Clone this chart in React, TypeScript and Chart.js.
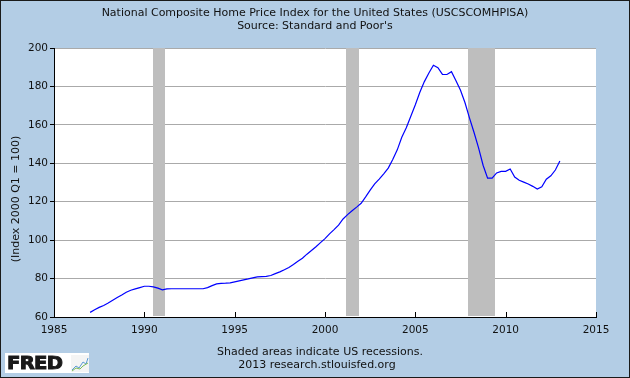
import React, { useEffect, useRef } from "react";
import { Chart, registerables } from "chart.js";

Chart.register(...registerables);

// Quarterly index values (2000 Q1 = 100), first quarter is 1987 Q1
const firstYear = 1987;
const values1987to1994 = [
  62.4, 63.8, 65.0, 66.0,
  67.3, 68.7, 70.1, 71.4,
  72.9, 73.9, 74.6, 75.3,
  76.0, 76.0, 75.7, 75.0,
  74.1, 74.6, 74.7, 74.7,
  74.7, 74.7, 74.7, 74.7,
  74.7, 74.7, 75.3, 76.3,
  77.2, 77.5, 77.6, 77.8,
];
const values1995to2004 = [
  78.3, 78.8, 79.3, 79.8,
  80.4, 80.9, 81.0, 81.1,
  81.6, 82.6, 83.5, 84.6,
  85.8, 87.3, 89.0, 90.6,
  92.7, 94.6, 96.6, 98.7,
  100.8, 103.3, 105.5, 107.8,
  111.0, 113.3, 115.3, 117.2,
  119.2, 122.5, 126.0, 129.3,
  131.8, 134.5, 137.5, 142.0,
  147.0, 153.5, 158.5, 164.5,
];
const values2005to2013 = [
  170.5, 177.0, 182.5, 187.0,
  191.0, 189.8, 186.3, 186.2,
  187.7, 183.0, 178.0, 171.5,
  163.5, 156.0, 148.0, 139.0,
  132.3, 132.3, 135.0, 135.8,
  135.8, 137.0, 132.8, 131.2,
  130.2, 129.2, 128.0, 126.6,
  127.8, 131.7, 133.5, 136.5,
  141.2,
];

// Recessions (decimal years)
const recessionStarts = [1990.5, 2001.17, 2007.92];
const recessionEnds = [1991.17, 2001.88, 2009.42];

// Axis ticks
const xMin = 1985;
const xMax = 2015;
const xStep = 5;
const yMin = 60;
const yMax = 200;
const yStep = 20;

const titleLine1 = "National Composite Home Price Index for the United States (USCSCOMHPISA)";
const titleLine2 = "Source: Standard and Poor's";
const yAxisTitle = "(Index 2000 Q1 = 100)";
const footLine1 = "Shaded areas indicate US recessions.";
const footLine2 = "2013 research.stlouisfed.org";

const BG = "#B3CDE5";
const FONT = "'DejaVu Sans', Verdana, sans-serif";

export default function App() {
  const canvasRef = useRef<HTMLCanvasElement | null>(null);

  useEffect(() => {
    document.body.style.margin = "0";
    const canvas = canvasRef.current;
    if (!canvas) return;

    const allValues = [...values1987to1994, ...values1995to2004, ...values2005to2013];
    const points = allValues.map((v, i) => ({ x: firstYear + i / 4, y: v }));

    const fredPlugin = {
      id: "fredPlugin",
      beforeDraw(chart: any) {
        const { ctx, chartArea } = chart;
        ctx.save();
        ctx.fillStyle = "#FFFFFF";
        ctx.fillRect(chartArea.left, chartArea.top, chartArea.right - chartArea.left, chartArea.bottom - chartArea.top);
        ctx.restore();
      },
      beforeDatasetsDraw(chart: any) {
        const { ctx, chartArea, scales } = chart;
        const xs = scales.x;
        ctx.save();
        ctx.fillStyle = "#BEBEBE";
        for (let i = 0; i < recessionStarts.length; i++) {
          const a = Math.round(xs.getPixelForValue(recessionStarts[i]));
          const b = Math.round(xs.getPixelForValue(recessionEnds[i]));
          ctx.fillRect(a, chartArea.top, b - a, chartArea.bottom - chartArea.top - 1);
        }
        ctx.restore();
      },
      afterDatasetsDraw(chart: any) {
        const { ctx, chartArea, scales } = chart;
        const xs = scales.x;
        ctx.save();
        ctx.strokeStyle = "#000000";
        ctx.lineWidth = 1;
        ctx.beginPath();
        for (const t of xs.ticks) {
          const px = Math.round(xs.getPixelForValue(t.value)) + 0.5;
          ctx.moveTo(px, chartArea.bottom);
          ctx.lineTo(px, chartArea.bottom - 5);
        }
        ctx.stroke();
        ctx.restore();
      },
    };

    const chart = new Chart(canvas, {
      type: "line",
      data: {
        datasets: [
          {
            data: points,
            borderColor: "#0000FF",
            borderWidth: 1.2,
            pointRadius: 0,
            tension: 0,
            fill: false,
          },
        ],
      },
      options: {
        animation: false,
        responsive: false,
        devicePixelRatio: 1,
        layout: { padding: { left: 0, right: 34, top: 48, bottom: 0 } },
        plugins: {
          legend: { display: false },
          tooltip: { enabled: false },
          title: { display: false },
        },
        scales: {
          x: {
            type: "linear",
            min: xMin,
            max: xMax,
            afterFit(scale: any) {
              scale.height = 61;
            },
            ticks: {
              stepSize: xStep,
              color: "#111111",
              padding: 7,
              maxRotation: 0,
              font: { family: FONT, size: 10.5 },
              callback: (v: any) => String(v),
            },
            grid: { display: true, drawOnChartArea: false, drawTicks: false },
            border: { display: true, color: "#000000", width: 1 },
          },
          y: {
            type: "linear",
            min: yMin,
            max: yMax,
            afterFit(scale: any) {
              scale.width = 54;
            },
            ticks: {
              stepSize: yStep,
              color: "#111111",
              padding: 2,
              font: { family: FONT, size: 10.5 },
              callback: (v: any) => String(v),
            },
            grid: {
              color: (c: any) => (c.tick && c.tick.value === yMin ? "rgba(0,0,0,0)" : "#AAAAAA"),
              tickColor: "#000000",
              tickLength: 4,
              lineWidth: 1,
            },
            border: { display: true, color: "#000000", width: 1 },
          },
        },
      },
      plugins: [fredPlugin],
    } as any);

    return () => chart.destroy();
  }, []);

  const textStyle: React.CSSProperties = {
    position: "absolute",
    left: 0,
    width: 630,
    textAlign: "center",
    fontFamily: FONT,
    fontSize: 11,
    color: "#111",
    whiteSpace: "nowrap",
    lineHeight: "13px",
  };

  return (
    <div style={{ position: "relative", width: 630, height: 378, background: BG, overflow: "hidden" }}>
      <canvas ref={canvasRef} width={630} height={378} style={{ position: "absolute", left: 0, top: 0 }} />
      <div style={{ ...textStyle, top: 6 }}>{titleLine1}</div>
      <div style={{ ...textStyle, top: 19 }}>{titleLine2}</div>
      <div style={{ ...textStyle, top: 345, left: 5 }}>{footLine1}</div>
      <div style={{ ...textStyle, top: 358, left: 2 }}>{footLine2}</div>
      <div
        style={{
          position: "absolute",
          left: 15,
          top: 199,
          transform: "translate(-50%, -50%) rotate(-90deg)",
          fontFamily: FONT,
          fontSize: 11,
          color: "#111",
          whiteSpace: "nowrap",
        }}
      >
        {yAxisTitle}
      </div>
      <div
        style={{
          position: "absolute",
          left: 5,
          top: 353,
          width: 84,
          height: 20,
          background: "#FFFFFF",
        }}
      >
        <div
          style={{
            position: "absolute",
            left: 2,
            top: 0,
            fontFamily: "'DejaVu Sans', sans-serif",
            fontWeight: 900,
            fontSize: 17,
            lineHeight: "20px",
            color: "#1a1a1a",
            transform: "scaleX(1.15)",
            transformOrigin: "left center",
            letterSpacing: "-0.6px",
            WebkitTextStroke: "0.9px #1a1a1a",
          }}
        >
          FRED
        </div>
        <svg width="18" height="17" style={{ position: "absolute", left: 66, top: 2 }}>
          <rect x="0" y="0" width="18" height="17" fill="#F4F4F4" />
          <polyline points="1,15 5,11 8,13 12,7 15,9 17,3" fill="none" stroke="#5A9BD5" strokeWidth="1" />
          <polyline points="1,16 5,13 9,14 12,11 17,8" fill="none" stroke="#7DBB5A" strokeWidth="1" />
        </svg>
      </div>
      <div
        style={{
          position: "absolute",
          left: 0,
          top: 0,
          width: 630,
          height: 378,
          boxSizing: "border-box",
          border: "1px solid #1a1a1a",
          pointerEvents: "none",
        }}
      />
    </div>
  );
}
